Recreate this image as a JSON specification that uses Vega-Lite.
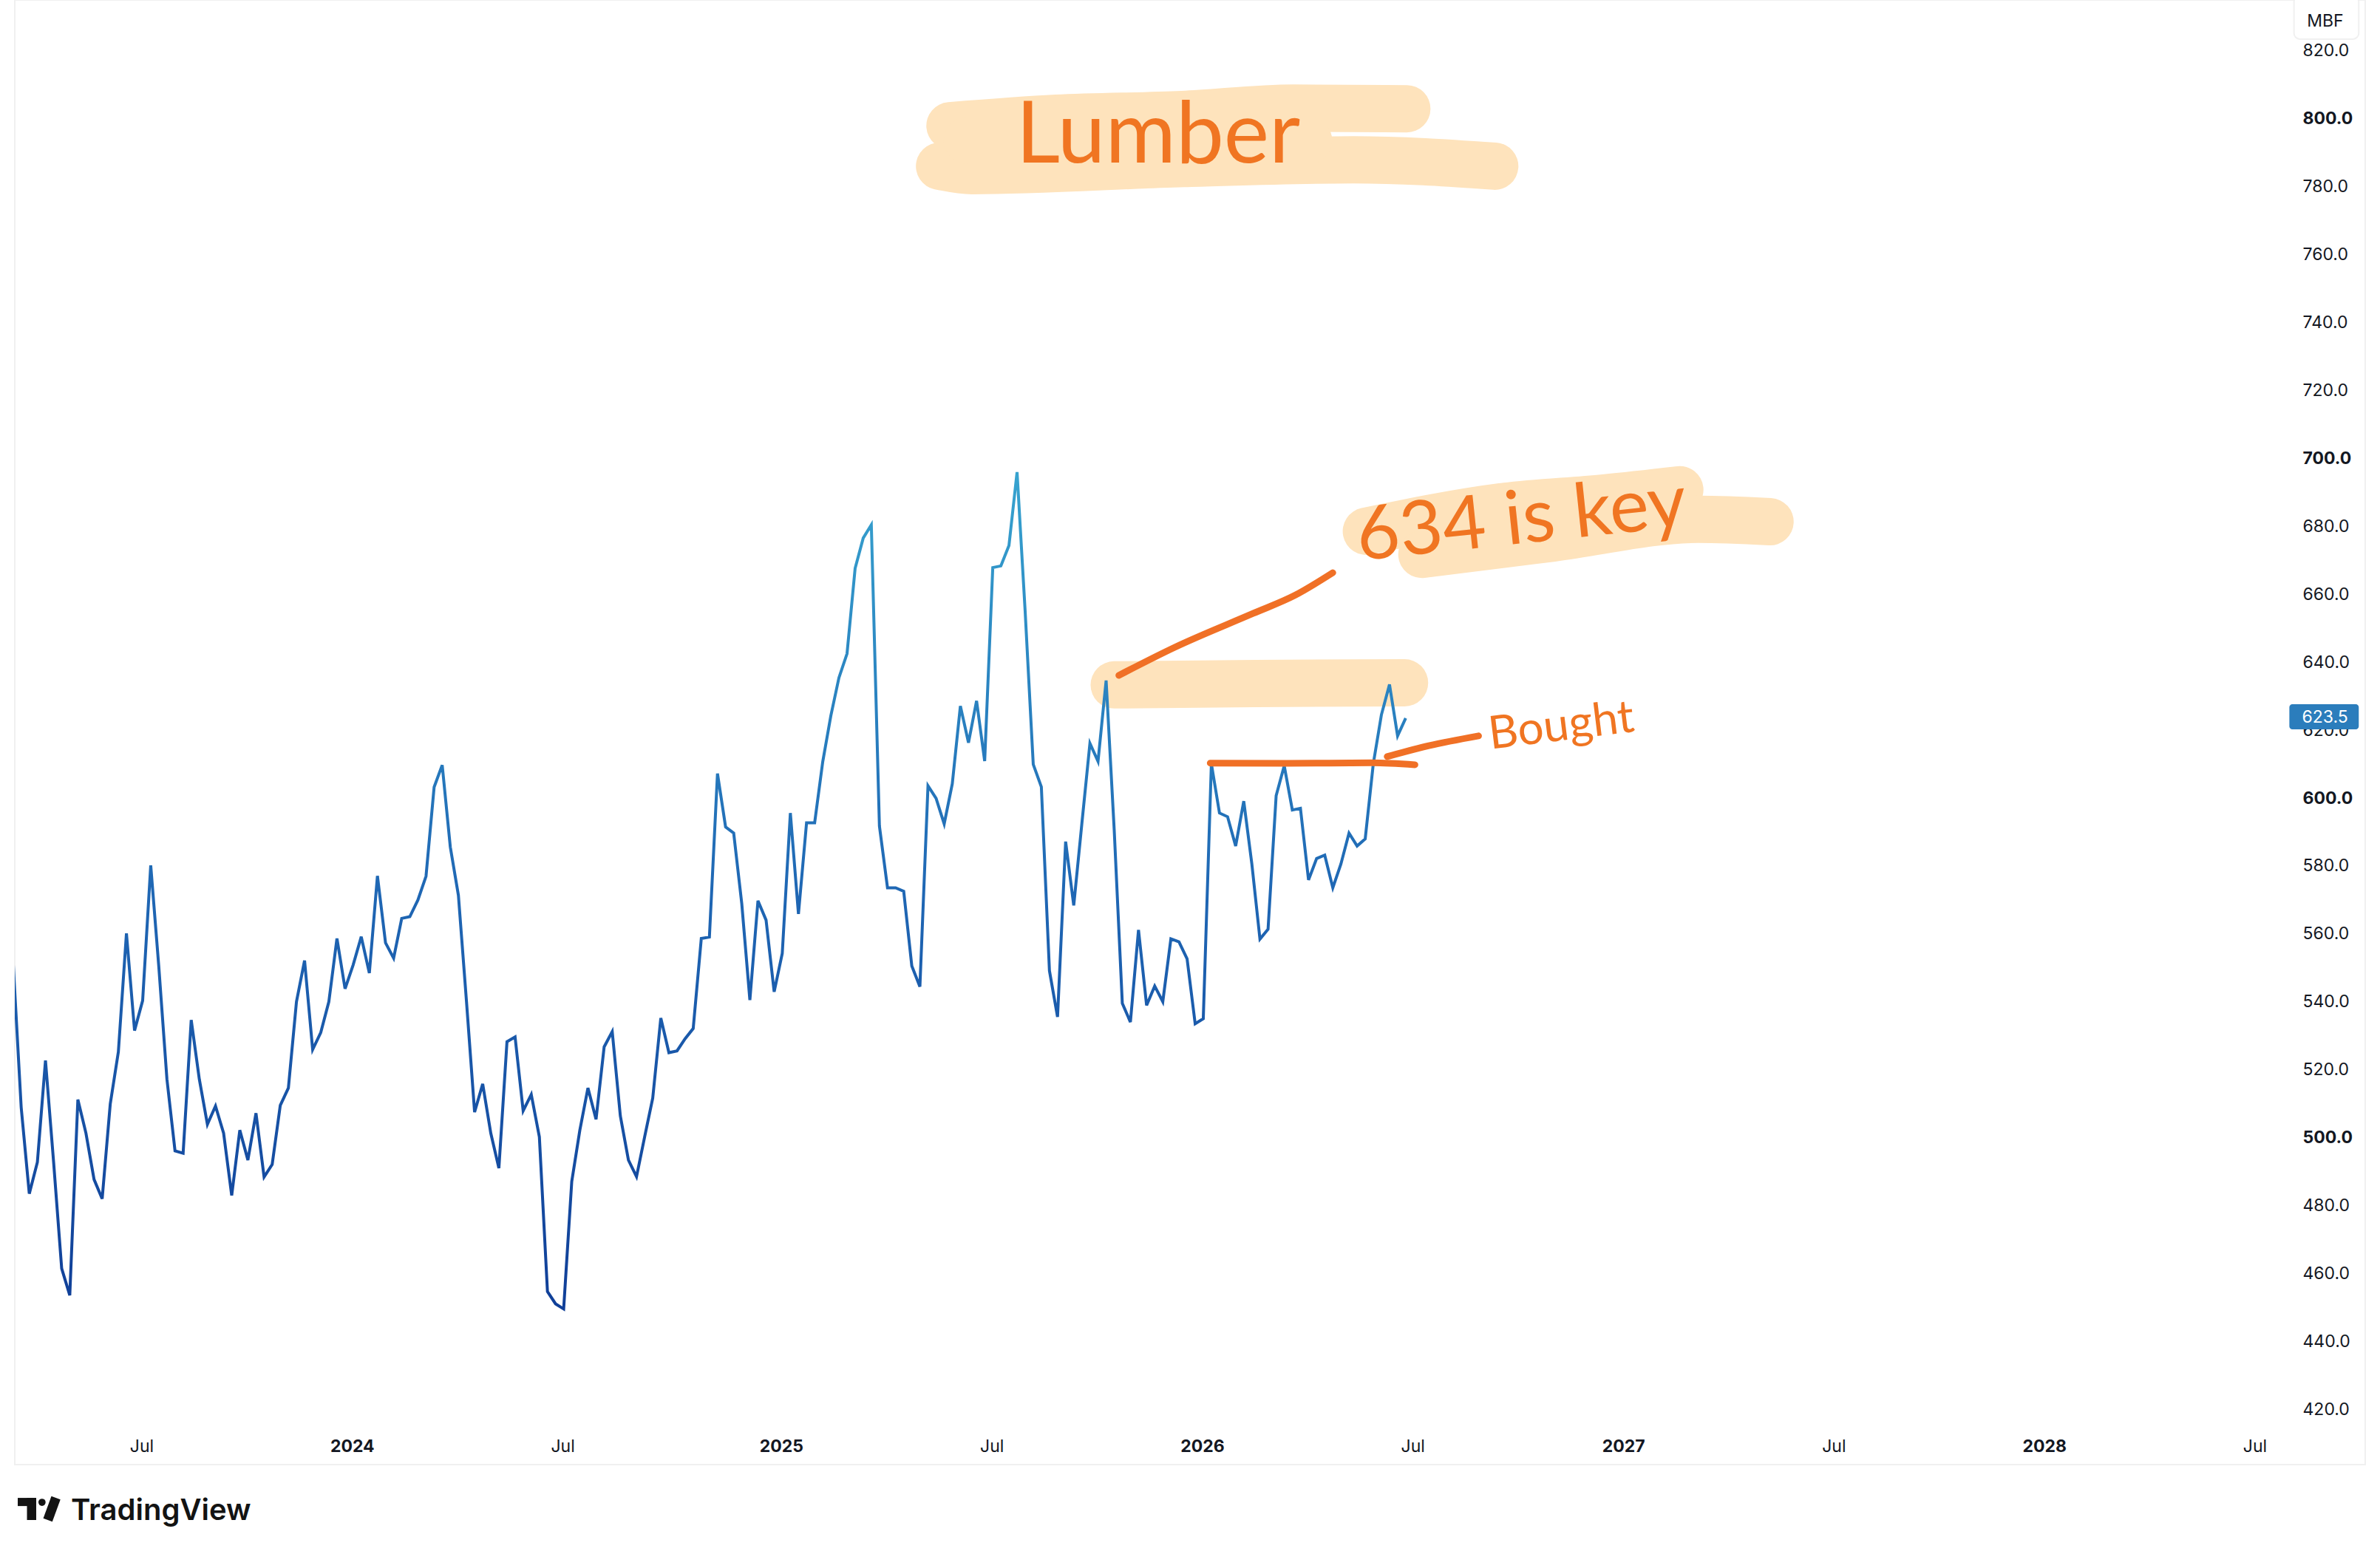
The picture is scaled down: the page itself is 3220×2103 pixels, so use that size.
{"$schema":"https://vega.github.io/schema/vega-lite/v6.json","width":3180,"height":1982,"autosize":"none","padding":{"left":20,"top":0,"right":20,"bottom":121},"background":"#ffffff","config":{"view":{"stroke":"#F0F0F0","strokeWidth":2},"font":"Inter"},
"datasets":{
"price":[{"date":"2023-03-13","v":552.0},{"date":"2023-03-20","v":509.0},{"date":"2023-03-27","v":483.6},{"date":"2023-04-03","v":492.9},{"date":"2023-04-10","v":522.8},{"date":"2023-04-17","v":493.0},{"date":"2023-04-24","v":461.6},{"date":"2023-05-01","v":453.7},{"date":"2023-05-08","v":511.3},{"date":"2023-05-15","v":501.4},{"date":"2023-05-22","v":487.8},{"date":"2023-05-29","v":482.1},{"date":"2023-06-05","v":510.0},{"date":"2023-06-12","v":525.3},{"date":"2023-06-19","v":560.2},{"date":"2023-06-26","v":531.6},{"date":"2023-07-03","v":540.4},{"date":"2023-07-10","v":580.2},{"date":"2023-07-17","v":550.3},{"date":"2023-07-24","v":517.3},{"date":"2023-07-31","v":496.2},{"date":"2023-08-07","v":495.5},{"date":"2023-08-14","v":534.7},{"date":"2023-08-21","v":517.3},{"date":"2023-08-28","v":504.0},{"date":"2023-09-04","v":509.4},{"date":"2023-09-11","v":501.4},{"date":"2023-09-18","v":483.1},{"date":"2023-09-25","v":502.3},{"date":"2023-10-02","v":493.5},{"date":"2023-10-09","v":507.3},{"date":"2023-10-16","v":488.5},{"date":"2023-10-23","v":492.2},{"date":"2023-10-30","v":509.6},{"date":"2023-11-06","v":514.7},{"date":"2023-11-13","v":540.1},{"date":"2023-11-20","v":552.2},{"date":"2023-11-27","v":526.0},{"date":"2023-12-04","v":531.0},{"date":"2023-12-11","v":540.1},{"date":"2023-12-18","v":558.7},{"date":"2023-12-25","v":543.9},{"date":"2024-01-01","v":550.9},{"date":"2024-01-08","v":559.2},{"date":"2024-01-15","v":548.5},{"date":"2024-01-22","v":577.1},{"date":"2024-01-29","v":557.4},{"date":"2024-02-05","v":552.9},{"date":"2024-02-12","v":564.6},{"date":"2024-02-19","v":565.1},{"date":"2024-02-26","v":570.0},{"date":"2024-03-04","v":577.0},{"date":"2024-03-11","v":603.2},{"date":"2024-03-18","v":609.7},{"date":"2024-03-25","v":585.6},{"date":"2024-04-01","v":571.4},{"date":"2024-04-08","v":540.1},{"date":"2024-04-15","v":507.6},{"date":"2024-04-22","v":515.9},{"date":"2024-04-29","v":501.4},{"date":"2024-05-06","v":491.1},{"date":"2024-05-13","v":528.3},{"date":"2024-05-20","v":529.7},{"date":"2024-05-27","v":508.0},{"date":"2024-06-03","v":512.8},{"date":"2024-06-10","v":500.3},{"date":"2024-06-17","v":454.8},{"date":"2024-06-24","v":451.2},{"date":"2024-07-01","v":449.7},{"date":"2024-07-08","v":487.2},{"date":"2024-07-15","v":502.3},{"date":"2024-07-22","v":514.7},{"date":"2024-07-29","v":505.5},{"date":"2024-08-05","v":526.8},{"date":"2024-08-12","v":531.3},{"date":"2024-08-19","v":506.5},{"date":"2024-08-26","v":493.5},{"date":"2024-09-02","v":488.6},{"date":"2024-09-09","v":500.3},{"date":"2024-09-16","v":511.7},{"date":"2024-09-23","v":535.3},{"date":"2024-09-30","v":525.1},{"date":"2024-10-07","v":525.6},{"date":"2024-10-14","v":529.2},{"date":"2024-10-21","v":532.2},{"date":"2024-10-28","v":558.7},{"date":"2024-11-04","v":559.1},{"date":"2024-11-11","v":607.2},{"date":"2024-11-18","v":591.5},{"date":"2024-11-25","v":589.7},{"date":"2024-12-02","v":568.9},{"date":"2024-12-09","v":540.6},{"date":"2024-12-16","v":569.8},{"date":"2024-12-23","v":564.1},{"date":"2024-12-30","v":543.0},{"date":"2025-01-06","v":554.3},{"date":"2025-01-13","v":595.6},{"date":"2025-01-20","v":565.9},{"date":"2025-01-27","v":592.7},{"date":"2025-02-03","v":592.7},{"date":"2025-02-10","v":610.7},{"date":"2025-02-17","v":624.2},{"date":"2025-02-24","v":635.4},{"date":"2025-03-03","v":642.5},{"date":"2025-03-10","v":667.6},{"date":"2025-03-17","v":676.5},{"date":"2025-03-24","v":680.4},{"date":"2025-03-31","v":591.8},{"date":"2025-04-07","v":573.6},{"date":"2025-04-14","v":573.6},{"date":"2025-04-21","v":572.6},{"date":"2025-04-28","v":550.6},{"date":"2025-05-05","v":544.5},{"date":"2025-05-12","v":603.6},{"date":"2025-05-19","v":599.9},{"date":"2025-05-26","v":592.4},{"date":"2025-06-02","v":604.2},{"date":"2025-06-09","v":627.1},{"date":"2025-06-16","v":616.3},{"date":"2025-06-23","v":628.6},{"date":"2025-06-30","v":610.9},{"date":"2025-07-07","v":667.8},{"date":"2025-07-14","v":668.3},{"date":"2025-07-21","v":674.3},{"date":"2025-07-28","v":695.9},{"date":"2025-08-04","v":654.9},{"date":"2025-08-11","v":609.9},{"date":"2025-08-18","v":603.3},{"date":"2025-08-25","v":549.2},{"date":"2025-09-01","v":535.6},{"date":"2025-09-08","v":587.2},{"date":"2025-09-15","v":568.4},{"date":"2025-09-22","v":592.4},{"date":"2025-09-29","v":616.1},{"date":"2025-10-06","v":610.8},{"date":"2025-10-13","v":634.6},{"date":"2025-10-20","v":590.6},{"date":"2025-10-27","v":539.6},{"date":"2025-11-03","v":534.1},{"date":"2025-11-10","v":561.2},{"date":"2025-11-17","v":539.0},{"date":"2025-11-24","v":544.7},{"date":"2025-12-01","v":540.1},{"date":"2025-12-08","v":558.6},{"date":"2025-12-15","v":557.7},{"date":"2025-12-22","v":552.7},{"date":"2025-12-29","v":533.6},{"date":"2026-01-05","v":535.1},{"date":"2026-01-12","v":610.1},{"date":"2026-01-19","v":595.6},{"date":"2026-01-26","v":594.5},{"date":"2026-02-02","v":585.9},{"date":"2026-02-09","v":599.1},{"date":"2026-02-16","v":580.6},{"date":"2026-02-23","v":558.5},{"date":"2026-03-02","v":561.4},{"date":"2026-03-09","v":600.7},{"date":"2026-03-16","v":609.5},{"date":"2026-03-23","v":596.5},{"date":"2026-03-30","v":597.0},{"date":"2026-04-06","v":575.9},{"date":"2026-04-13","v":582.2},{"date":"2026-04-20","v":583.2},{"date":"2026-04-27","v":573.6},{"date":"2026-05-04","v":580.6},{"date":"2026-05-11","v":589.7},{"date":"2026-05-18","v":585.9},{"date":"2026-05-25","v":588.0},{"date":"2026-06-01","v":610.1},{"date":"2026-06-08","v":624.5},{"date":"2026-06-15","v":633.4},{"date":"2026-06-22","v":618.3},{"date":"2026-06-29","v":623.5}],
"highlight":[{"s":"A","date":"2025-05-31","v":797.8},{"s":"A","date":"2025-08-31","v":800.0},{"s":"A","date":"2025-12-18","v":801.1},{"s":"A","date":"2026-03-24","v":803.0},{"s":"A","date":"2026-06-30","v":802.8},{"s":"B","date":"2025-05-22","v":785.9},{"s":"B","date":"2025-06-19","v":784.6},{"s":"B","date":"2025-12-19","v":786.7},{"s":"B","date":"2026-05-15","v":787.8},{"s":"B","date":"2026-09-14","v":785.9},{"s":"I","date":"2025-06-15","v":793.5},{"s":"I","date":"2026-04-06","v":793.5},{"s":"C","date":"2026-05-26","v":678.5},{"s":"C","date":"2026-09-20","v":685.7},{"s":"C","date":"2026-12-18","v":688.3},{"s":"C","date":"2027-02-21","v":690.7},{"s":"D","date":"2026-07-13","v":671.7},{"s":"D","date":"2026-11-03","v":676.5},{"s":"D","date":"2027-03-09","v":682.0},{"s":"D","date":"2027-05-10","v":681.3},{"s":"E","date":"2025-10-20","v":633.3},{"s":"E","date":"2026-02-20","v":633.7},{"s":"E","date":"2026-06-28","v":633.9}],
"ink":[{"s":"F","date":"2025-10-24","v":636.1},{"s":"F","date":"2025-12-11","v":644.3},{"s":"F","date":"2026-02-17","v":654.3},{"s":"F","date":"2026-03-25","v":659.6},{"s":"F","date":"2026-04-27","v":666.3},{"s":"G","date":"2026-01-11","v":610.3},{"s":"G","date":"2026-03-18","v":610.2},{"s":"G","date":"2026-05-31","v":610.4},{"s":"G","date":"2026-07-07","v":609.8},{"s":"H","date":"2026-06-13","v":612.2},{"s":"H","date":"2026-07-19","v":615.4},{"s":"H","date":"2026-08-31","v":618.3}]
},
"encoding":{
"x":{"field":"date","type":"temporal","title":null,"scale":{"type":"utc","domain":[{"year":2023,"month":3,"date":14,"hours":11,"utc":true},{"year":2028,"month":10,"date":5,"hours":14,"utc":true}]},"axis":{"orient":"bottom","domain":false,"ticks":false,"grid":false,"labelPadding":-25,"labelOffset":-1.5,"labelBaseline":"middle","labelFont":"Inter","labelFontSize":23,"labelColor":"#131722","labelOverlap":false,"labelFlush":false,"values":["2023-07-03","2024-01-01","2024-07-01","2025-01-06","2025-07-07","2026-01-05","2026-07-06","2027-01-04","2027-07-05","2028-01-03","2028-07-03"],"labelExpr":"utcmonth(datum.value)===0?utcFormat(datum.value,'%Y'):'Jul'","labelFontWeight":{"condition":{"test":"utcmonth(datum.value)===0","value":"bold"},"value":"normal"}}},
"y":{"field":"v","type":"quantitative","title":null,"scale":{"domain":[403.9,834.8],"nice":false,"zero":false},"axis":{"orient":"right","domain":false,"ticks":false,"grid":false,"labelPadding":-85,"labelAlign":"left","labelBaseline":"middle","labelFont":"Inter","labelFontSize":23,"labelColor":"#131722","labelOverlap":false,"labelFlush":false,"format":".1f","values":[420,440,460,480,500,520,540,560,580,600,620,640,660,680,700,720,740,760,780,800,820],"labelFontWeight":{"condition":{"test":"datum.value%100===0","value":"bold"},"value":"normal"}}}
},
"layer":[
{"data":{"name":"highlight"},"mark":{"type":"line","interpolate":"monotone","strokeWidth":64,"strokeCap":"round","strokeJoin":"round","color":"#FEE3BC"},"encoding":{"detail":{"field":"s"}}},
{"data":{"name":"price"},"mark":{"type":"line","clip":true,"strokeWidth":4,"strokeJoin":"miter","color":{"gradient":"linear","x1":0,"y1":1,"x2":0,"y2":0,"stops":[{"offset":0,"color":"#103F98"},{"offset":0.5,"color":"#1F67B4"},{"offset":1,"color":"#37A3CF"}]}}},
{"data":{"name":"ink"},"mark":{"type":"line","interpolate":"monotone","strokeWidth":9,"strokeCap":"round","strokeJoin":"round","color":"#F07026"},"encoding":{"detail":{"field":"s"}}},
{"data":{"values":[{"label":"Lumber","date":"2025-11-27","v":787,"size":116,"angle":0},{"label":"634 is key","date":"2026-10-09","v":675,"size":101,"angle":354},{"label":"Bought","date":"2026-11-12","v":617,"size":62,"angle":353}]},"mark":{"type":"text","font":"Lato","align":"center","baseline":"alphabetic","color":"#F07522"},"encoding":{"text":{"field":"label"},"size":{"field":"size","type":"quantitative","scale":null,"legend":null},"angle":{"field":"angle","type":"quantitative","scale":null,"legend":null}}},
{"data":{"values":[{"date":"2028-08-01","d2":"2028-09-30","v":627.6,"v2":620.2}]},"mark":{"type":"rect","color":"#2B7DBC","cornerRadius":4},"encoding":{"x2":{"field":"d2"},"y2":{"field":"v2"}}},
{"data":{"values":[{"label":"623.5","date":"2028-08-12","v":623.7}]},"mark":{"type":"text","font":"Inter","fontSize":23,"align":"left","baseline":"middle","color":"#ffffff"},"encoding":{"text":{"field":"label"}}},
{"data":{"values":[{"date":"2028-08-05","d2":"2028-09-30","v":823.3,"v2":836}]},"mark":{"type":"rect","fill":"#ffffff","stroke":"#F0F0F0","strokeWidth":2,"cornerRadius":8},"encoding":{"x2":{"field":"d2"},"y2":{"field":"v2"}}},
{"data":{"values":[{"label":"MBF","date":"2028-09-01","v":828.5}]},"mark":{"type":"text","font":"Inter","fontSize":23,"align":"center","baseline":"middle","color":"#131722"},"encoding":{"text":{"field":"label"}}},
{"data":{"values":[{"label":"TradingView","date":"2023-05-02","v":387.6}]},"mark":{"type":"text","font":"Inter","fontSize":40,"fontWeight":600,"align":"left","baseline":"alphabetic","color":"#131313"},"encoding":{"text":{"field":"label"}}},
{"data":{"values":[{"date":"2023-03-17","d2":"2023-04-02","v":394.1,"v2":391.7},{"date":"2023-03-25","d2":"2023-04-02","v":394.1,"v2":387.6}]},"mark":{"type":"rect","color":"#131313"},"encoding":{"x2":{"field":"d2"},"y2":{"field":"v2"}}},
{"data":{"values":[{"date":"2023-04-07","v":392.8}]},"mark":{"type":"point","filled":true,"shape":"circle","size":95,"opacity":1,"color":"#131313"}},
{"data":{"values":[{"date":"2023-04-19","v":394.1},{"date":"2023-04-12","v":387.6}]},"mark":{"type":"line","strokeWidth":13,"strokeCap":"butt","color":"#131313"},"encoding":{"order":{"field":"v","sort":"descending"}}}
]}
